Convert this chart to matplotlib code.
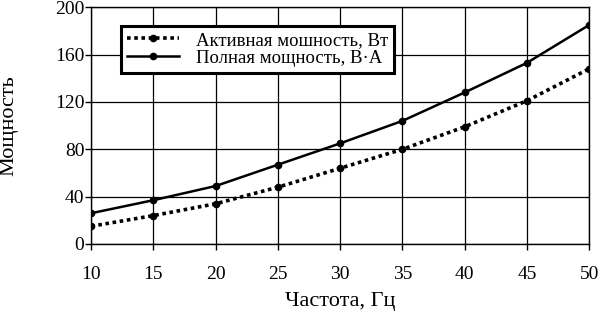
import numpy as np
import matplotlib
matplotlib.use("Agg")
import matplotlib.pyplot as plt

plt.rcParams["font.family"] = ["Liberation Serif", "DejaVu Serif"]

# frequency, Hz
freq = [10, 15, 20, 25, 30, 35, 40, 45, 50]
# active power, W
active = [15, 24, 34, 48, 64, 80, 99, 121, 148]
# apparent power, VA
full = [26, 37, 49, 67, 85, 104, 128, 153, 185]

fig = plt.figure(figsize=(6, 3.2), dpi=100)
ax = fig.add_axes([0.152, 0.2375, 0.83, 0.74])

ax.plot(freq, active, color="black", linestyle=(0, (1, 1)), linewidth=2.6,
        marker="o", markersize=4.5, label="Активная мошность, Вт")
ax.plot(freq, full, color="black", linestyle="-", linewidth=1.8,
        marker="o", markersize=4.5, label="Полная мощность, В·А")

ax.set_xlim(10, 50)
ax.set_ylim(0, 200)
ax.set_xticks(range(10, 51, 5))
ax.set_yticks(range(0, 201, 40))
ax.grid(True, color="black", linewidth=0.9)
for s in ax.spines.values():
    s.set_linewidth(1.0)
ax.tick_params(axis="both", labelsize=14, length=4, width=1, direction="out")
ax.tick_params(axis="x", pad=12)
ax.tick_params(axis="y", pad=1)

ax.set_xlabel("Частота, Гц", fontsize=16, labelpad=6)
ax.set_ylabel("Мощность", fontsize=16, labelpad=26)

leg = ax.legend(loc="upper left", bbox_to_anchor=(0.06, 0.92), fontsize=13.5,
                numpoints=1, handlelength=2.8, frameon=True, fancybox=False,
                borderpad=0.3, labelspacing=0.05, handletextpad=0.9,
                borderaxespad=0)
leg.get_frame().set_edgecolor("black")
leg.get_frame().set_linewidth(2.2)
leg.get_frame().set_alpha(1)

fig.savefig("out.png", dpi=100)
